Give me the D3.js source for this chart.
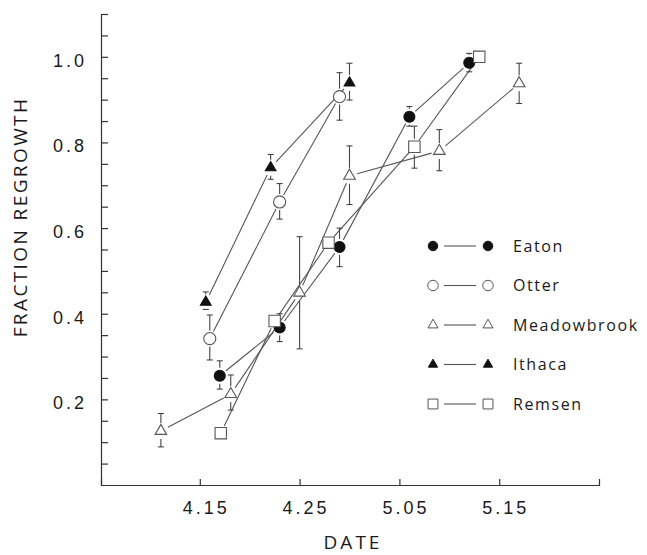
<!DOCTYPE html>
<html>
<head>
<meta charset="utf-8">
<script src="https://cdn.jsdelivr.net/npm/d3@7"></script>
<style>
  body { margin: 0; background: #fff; }
  svg { display: block; font-family: "Open Sans", "Liberation Sans", sans-serif; }
  .axis text { font-size: 18px; fill: #1a1a1a; letter-spacing: 3px; }
  .axis path, .axis line { stroke: #333; stroke-width: 1.2; }
</style>
</head>
<body>
<svg id="chart" width="647" height="555"></svg>
<script>
// days are counted from April 1 (May 5 = 35)
var seriesNames = ['Eaton', 'Otter', 'Meadowbrook', 'Ithaca', 'Remsen'];

var eatonDays   = [17, 23, 29, 36, 42],
    eatonValues = [0.255, 0.368, 0.556, 0.860, 0.986],
    eatonLow    = [0.224, 0.335, 0.510, 0.838, 0.965],
    eatonHigh   = [0.290, 0.400, 0.600, 0.884, 1.008];

var otterDays   = [16, 23, 29],
    otterValues = [0.342, 0.661, 0.907],
    otterLow    = [0.292, 0.621, 0.852],
    otterHigh   = [0.397, 0.704, 0.963];

var meadowDays   = [11.1, 18.1, 25, 30, 39, 47],
    meadowValues = [0.126, 0.212, 0.449, 0.722, 0.780, 0.938],
    meadowLow    = [0.089, 0.175, 0.318, 0.655, 0.734, 0.891],
    meadowHigh   = [0.167, 0.257, 0.580, 0.792, 0.830, 0.985];

var ithacaDays   = [15.6, 22.1, 30],
    ithacaValues = [0.427, 0.741, 0.939],
    ithacaLow    = [0.410, 0.714, 0.899],
    ithacaHigh   = [0.451, 0.772, 0.985];

var remsenDays   = [17.1, 22.5, 27.9, 36.5, 43],
    remsenValues = [0.121, 0.383, 0.566, 0.790, 1.000],
    remsenLow    = [null, null, null, 0.740, null],
    remsenHigh   = [null, null, null, 0.838, null];

var xTickDays   = [15, 25, 35, 45],
    xTickLabels = ['4.15', '4.25', '5.05', '5.15'];
var yTickLabelled = [0.2, 0.4, 0.6, 0.8, 1.0];

(function() {
    'use strict';

    var raw = {
        Eaton:       [eatonDays, eatonValues, eatonLow, eatonHigh],
        Otter:       [otterDays, otterValues, otterLow, otterHigh],
        Meadowbrook: [meadowDays, meadowValues, meadowLow, meadowHigh],
        Ithaca:      [ithacaDays, ithacaValues, ithacaLow, ithacaHigh],
        Remsen:      [remsenDays, remsenValues, remsenLow, remsenHigh]
    };

    var styles = {
        Eaton:       {shape: d3.symbolCircle,   size: 95,  filled: true},
        Otter:       {shape: d3.symbolCircle,   size: 115, filled: false},
        Meadowbrook: {shape: d3.symbolTriangle, size: 58,  filled: false},
        Ithaca:      {shape: d3.symbolTriangle, size: 50,  filled: true},
        Remsen:      {shape: d3.symbolSquare,   size: 130, filled: false}
    };

    var seriesData = seriesNames.map(function(name) {
        var r = raw[name];
        return {
            name: name,
            points: r[0].map(function(d, i) {
                return {day: d, value: r[1][i], low: r[2][i], high: r[3][i]};
            })
        };
    });

    var svg = d3.select('#chart');

    var x = d3.scaleLinear().domain([5.1, 55]).range([101, 599]),
        y = d3.scaleLinear().domain([0, 1.1]).range([485, 14]);

    var yTicks = d3.range(1, 23).map(function(i) { return Math.round(i * 5) / 100; });

    var yAxis = d3.axisLeft(y)
        .tickValues(yTicks)
        .tickSizeInner(-7)
        .tickSizeOuter(-7)
        .tickPadding(14)
        .tickFormat(function(d) {
            return yTickLabelled.some(function(v) { return Math.abs(v - d) < 1e-6; }) ? d3.format('.1f')(d) : '';
        });

    svg.append('g')
        .attr('class', 'axis y')
        .attr('transform', 'translate(101,0)')
        .call(yAxis)
        .call(function(g) {
            g.selectAll('text').attr('dy', '0.52em');
        });

    var xAxis = d3.axisBottom(x)
        .tickValues(xTickDays)
        .tickSizeInner(-6)
        .tickSizeOuter(-6)
        .tickPadding(16)
        .tickFormat(function(d, i) { return xTickLabels[i]; });

    svg.append('g')
        .attr('class', 'axis x')
        .attr('transform', 'translate(0,485)')
        .call(xAxis)
        .call(function(g) {
            g.selectAll('text').attr('dx', 6);
        });

    svg.append('text')
        .attr('x', 353)
        .attr('y', 549)
        .attr('text-anchor', 'middle')
        .style('font-size', '19px')
        .style('letter-spacing', '3px')
        .attr('fill', '#1a1a1a')
        .text('DATE');

    svg.append('text')
        .attr('transform', 'translate(27,217) rotate(-90)')
        .attr('text-anchor', 'middle')
        .style('font-size', '19px')
        .style('letter-spacing', '2.4px')
        .attr('fill', '#1a1a1a')
        .text('FRACTION REGROWTH');

    var plot = svg.append('g').attr('class', 'plot');

    // connecting lines, stopped short of each marker
    var lineGap = 8;
    seriesData.forEach(function(s) {
        var segs = d3.pairs(s.points).map(function(p) {
            var x0 = x(p[0].day), y0 = y(p[0].value),
                x1 = x(p[1].day), y1 = y(p[1].value),
                len = Math.hypot(x1 - x0, y1 - y0),
                ux = (x1 - x0) / len, uy = (y1 - y0) / len;
            return [x0 + ux * lineGap, y0 + uy * lineGap, x1 - ux * lineGap, y1 - uy * lineGap];
        });
        plot.append('g').selectAll('line').data(segs).enter().append('line')
            .attr('x1', function(d) { return d[0]; })
            .attr('y1', function(d) { return d[1]; })
            .attr('x2', function(d) { return d[2]; })
            .attr('y2', function(d) { return d[3]; })
            .attr('stroke', '#555')
            .attr('stroke-width', 1.1);
    });

    // error bars, also starting a little away from the marker
    var barGap = 8, capHalf = 3;
    seriesData.forEach(function(s) {
        var bars = [];
        s.points.forEach(function(p) {
            if (p.low == null) return;
            var cx = x(p.day), cy = y(p.value);
            [p.high, p.low].forEach(function(v) {
                var ey = y(v), dir = ey < cy ? -1 : 1;
                var start = cy + dir * barGap;
                bars.push({cx: cx, start: Math.abs(ey - cy) > barGap ? start : ey, end: ey});
            });
        });
        var g = plot.append('g').selectAll('g').data(bars).enter().append('g');
        g.append('line')
            .attr('x1', function(d) { return d.cx; })
            .attr('x2', function(d) { return d.cx; })
            .attr('y1', function(d) { return d.start; })
            .attr('y2', function(d) { return d.end; })
            .attr('stroke', '#444')
            .attr('stroke-width', 1.1);
        g.append('line')
            .attr('x1', function(d) { return d.cx - capHalf; })
            .attr('x2', function(d) { return d.cx + capHalf; })
            .attr('y1', function(d) { return d.end; })
            .attr('y2', function(d) { return d.end; })
            .attr('stroke', '#444')
            .attr('stroke-width', 1.1);
    });

    var symbolPath = function(name, scale) {
        var st = styles[name];
        return d3.symbol().type(st.shape).size(st.size * (scale || 1))();
    };

    seriesData.forEach(function(s) {
        var st = styles[s.name];
        plot.append('g').selectAll('path').data(s.points).enter().append('path')
            .attr('transform', function(d) { return 'translate(' + x(d.day) + ',' + y(d.value) + ')'; })
            .attr('d', symbolPath(s.name))
            .attr('fill', st.filled ? '#111' : '#fff')
            .attr('stroke', st.filled ? '#111' : '#555')
            .attr('stroke-width', 1.1);
    });

    // legend
    var legendY = d3.scalePoint().domain(seriesNames).range([246, 404]);
    var legend = svg.append('g').attr('class', 'legend');
    var rows = legend.selectAll('g').data(seriesNames).enter().append('g')
        .attr('transform', function(d) { return 'translate(0,' + legendY(d) + ')'; });
    rows.append('line')
        .attr('x1', 444).attr('x2', 476)
        .attr('stroke', '#555').attr('stroke-width', 1.1);
    [433, 488].forEach(function(mx) {
        rows.append('path')
            .attr('transform', 'translate(' + mx + ',0)')
            .attr('d', function(d) { return symbolPath(d, 0.75); })
            .attr('fill', function(d) { return styles[d].filled ? '#111' : '#fff'; })
            .attr('stroke', function(d) { return styles[d].filled ? '#111' : '#555'; })
            .attr('stroke-width', 1);
    });
    rows.append('text')
        .attr('x', 513)
        .attr('dy', '0.36em')
        .style('font-size', '16px')
        .style('letter-spacing', '1.6px')
        .attr('fill', '#1a1a1a')
        .text(function(d) { return d; });
})();
</script>
</body>
</html>
